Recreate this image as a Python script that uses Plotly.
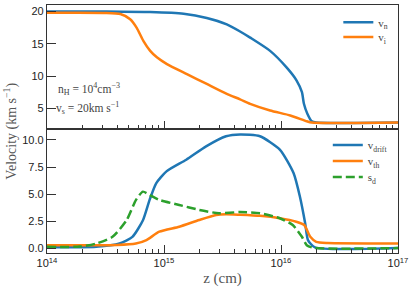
import plotly.graph_objects as go
from plotly.subplots import make_subplots

# ---- top panel data ----
z_vn = [1.0e14, 3.16e14, 7.6e14, 1.47e15, 2.32e15, 3.44e15, 4.47e15, 5.45e15, 8.07e15,
        1.12e16, 1.36e16, 1.51e16, 1.57e16, 1.68e16, 1.83e16, 2.0e16, 1.0e17]
v_n = [20.0, 19.98, 19.9, 19.65, 19.0, 18.0, 16.9, 15.95, 13.9,
       11.3, 9.3, 7.5, 5.7, 4.15, 3.0, 2.8, 2.8]

z_vi = [1.0e14, 3.16e14, 4.24e14, 5.14e14, 5.83e14, 6.68e14, 7.62e14, 8.69e14, 1.06e15,
        1.57e15, 2.32e15, 3.44e15, 4.47e15, 5.45e15, 8.07e15, 1.2e16, 1.66e16, 1.82e16, 1.0e17]
v_i = [19.8, 19.78, 19.6, 18.8, 17.5, 15.4, 13.9, 12.9, 11.85,
       10.3, 8.77, 7.23, 6.4, 5.7, 4.67, 3.9, 3.0, 2.8, 2.8]

# ---- bottom panel data ----
z_drift = [1.0e14, 2.63e14, 4.17e14, 5.37e14, 6.61e14, 7.52e14, 8.57e14, 1.05e15, 1.55e15,
           2.29e15, 3.39e15, 4.47e15, 6.61e15, 9.77e15, 1.28e16, 1.45e16, 1.61e16, 1.70e16,
           1.95e16, 1.0e17]
v_drift = [0.1, 0.15, 0.45, 1.07, 2.6, 4.45, 6.0, 7.1, 8.17,
           9.4, 10.33, 10.5, 10.33, 9.1, 6.94, 4.78, 2.3, 0.77,
           0.1, 0.05]

z_th = [1.0e14, 3.98e14, 5.75e14, 7.08e14, 9.12e14, 1.35e15, 2.0e15, 2.79e15, 3.39e15,
        4.47e15, 6.61e15, 9.77e15, 1.35e16, 1.58e16, 1.78e16, 2.0e16, 2.5e16, 1.0e17]
v_th = [0.3, 0.32, 0.45, 0.77, 1.54, 2.0, 2.62, 3.08, 3.15,
        3.1, 3.0, 2.78, 2.46, 2.16, 1.07, 0.61, 0.5, 0.46]

z_sd = [1.0e14, 1.9e14, 2.63e14, 3.63e14, 4.79e14, 5.75e14, 6.61e14, 7.52e14, 9.12e14,
        1.35e15, 2.0e15, 2.95e15, 4.47e15, 6.61e15, 9.77e15, 1.26e16, 1.51e16, 1.66e16,
        1.91e16, 1.0e17]
s_d = [0.15, 0.17, 0.45, 1.07, 2.6, 4.45, 5.23, 4.93, 4.47,
       4.0, 3.55, 3.24, 3.35, 3.24, 2.78, 2.16, 1.07, 0.3,
       0.05, 0.03]

x_tickvals = [1e14, 1e15, 1e16, 1e17]
x_ticktext = ["10<sup>14</sup>", "10<sup>15</sup>", "10<sup>16</sup>", "10<sup>17</sup>"]
top_yticks = [5, 10, 15, 20]
bot_yticks = [0.0, 2.5, 5.0, 7.5, 10.0]
bot_yticktext = ["0.0", "2.5", "5.0", "7.5", "10.0"]

BLUE, ORANGE, GREEN = "#1f77b4", "#ff7f0e", "#2ca02c"
SERIF = "Liberation Serif"
SANS = "Liberation Sans"

fig = make_subplots(rows=2, cols=1, shared_xaxes=False, vertical_spacing=0)

LW = 2.5
fig.add_trace(go.Scatter(x=z_vn, y=v_n, mode="lines", name="v<sub>n</sub>",
                         line=dict(color=BLUE, width=LW, shape="spline", smoothing=0.6),
                         legend="legend"), row=1, col=1)
fig.add_trace(go.Scatter(x=z_vi, y=v_i, mode="lines", name="v<sub>i</sub>",
                         line=dict(color=ORANGE, width=LW, shape="spline", smoothing=0.6),
                         legend="legend2"), row=1, col=1)
fig.add_trace(go.Scatter(x=z_drift, y=v_drift, mode="lines", name="v<sub>drift</sub>",
                         line=dict(color=BLUE, width=LW, shape="spline", smoothing=0.6),
                         legend="legend3"), row=2, col=1)
fig.add_trace(go.Scatter(x=z_th, y=v_th, mode="lines", name="v<sub>th</sub>",
                         line=dict(color=ORANGE, width=LW, shape="spline", smoothing=0.6),
                         legend="legend4"), row=2, col=1)
fig.add_trace(go.Scatter(x=z_sd, y=s_d, mode="lines", name="s<sub>d</sub>",
                         line=dict(color=GREEN, width=LW, dash="9px,4px", shape="spline", smoothing=0.6),
                         legend="legend5"), row=2, col=1)

AX = "#333333"
common_x = dict(type="log", range=[14, 17], showline=True, linecolor=AX, linewidth=1.3,
                mirror=True, ticks="inside", ticklen=8, tickwidth=1, tickcolor=AX,
                tickvals=x_tickvals, ticktext=x_ticktext, showgrid=False, zeroline=False,
                minor=dict(ticks="inside", ticklen=4, tickwidth=1, tickcolor=AX,
                           dtick="D1", showgrid=False),
                tickfont=dict(family=SANS, size=11, color="#222"))
fig.update_xaxes(**common_x)
fig.update_xaxes(showticklabels=False, row=1, col=1)
fig.update_xaxes(row=2, col=1, title=dict(text="z (cm)", font=dict(family=SERIF, size=15, color="#555"),
                                          standoff=4))

common_y = dict(showline=True, linecolor=AX, linewidth=1.3, mirror=True, ticks="inside",
                ticklen=9, tickwidth=1, tickcolor=AX, showgrid=False, zeroline=False,
                tickfont=dict(family=SANS, size=11, color="#222"))
fig.update_yaxes(**common_y)
fig.update_yaxes(row=1, col=1, range=[1.8, 21.0], tickvals=top_yticks)
fig.update_yaxes(row=2, col=1, range=[-0.42, 11.0], tickvals=bot_yticks, ticktext=bot_yticktext)


def leg(x, y):
    return dict(x=x, y=y, xanchor="left", yanchor="middle", bgcolor="rgba(0,0,0,0)",
                font=dict(family=SERIF, size=11, color="#444"), itemwidth=30)


fig.update_layout(
    width=416, height=294,
    margin=dict(l=47, r=18, t=5, b=41, autoexpand=False),
    plot_bgcolor="white", paper_bgcolor="white",
    showlegend=True,
    legend=leg(0.83, 0.93),
    legend2=leg(0.83, 0.871),
    legend3=leg(0.80, 0.435),
    legend4=leg(0.80, 0.371),
    legend5=leg(0.80, 0.306),
    annotations=[
        dict(text="n<sub>H</sub> = 10<sup>4</sup>cm<sup>−3</sup>", x=0.025, y=0.662,
             xref="paper", yref="paper", xanchor="left", yanchor="middle", showarrow=False,
             font=dict(family=SERIF, size=11.5, color="#444")),
        dict(text="v<sub>s</sub> = 20km s<sup>−1</sup>", x=0.02, y=0.584,
             xref="paper", yref="paper", xanchor="left", yanchor="middle", showarrow=False,
             font=dict(family=SERIF, size=11.5, color="#444")),
        dict(text="Velocity (km s<sup>−1</sup>)", x=-0.105, y=0.49, textangle=-90,
             xref="paper", yref="paper", xanchor="center", yanchor="middle", showarrow=False,
             font=dict(family=SERIF, size=14, color="#555")),
    ],
)

fig.write_html("out.html", config={"displayModeBar": False},
               post_script="document.body.style.margin='0px';document.body.style.overflow='hidden';")
